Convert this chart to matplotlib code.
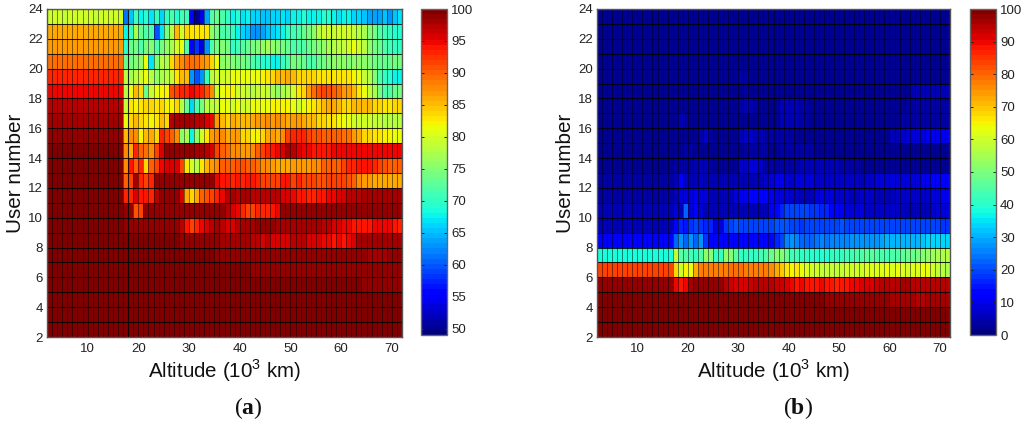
import numpy as np
import matplotlib
matplotlib.use('Agg')
import matplotlib.pyplot as plt

plt.rcParams['font.family'] = ['Liberation Sans', 'DejaVu Sans']
plt.rcParams['mathtext.fontset'] = 'custom'
plt.rcParams['mathtext.rm'] = 'Liberation Sans'
plt.rcParams['mathtext.bf'] = 'Liberation Serif:bold'

altitude_edges = np.arange(2, 73)
user_edges = np.arange(2, 25)
x_ticks = [10, 20, 30, 40, 50, 60, 70]
y_ticks = [2, 4, 6, 8, 10, 12, 14, 16, 18, 20, 22, 24]
cbar_ticks_a = [50, 55, 60, 65, 70, 75, 80, 85, 90, 95, 100]
cbar_ticks_b = [0, 10, 20, 30, 40, 50, 60, 70, 80, 90, 100]
heavy_cols_a = [18, 36, 58]

# panel (a), one list per user number row
a23 = [80, 80, 80, 79, 80, 80, 80, 80, 80, 79, 80, 80, 80, 80, 80,
       61, 65, 71, 68, 69, 67, 70, 66, 70, 72, 69, 71, 71, 55, 50, 54, 64, 72, 73, 72, 70,
       68, 69, 67, 68, 66, 66, 65, 65, 66, 66, 67, 66, 68, 68, 69, 68, 68, 68, 69, 69, 68, 67, 68, 68, 66, 66, 65, 64, 64, 64, 65, 63, 65, 67]
a22 = [86, 86, 86, 86, 86, 86, 86, 86, 86, 86, 86, 86, 86, 86, 86,
       68, 70, 77, 73, 72, 72, 60, 67, 74, 78, 85, 80, 84, 83, 83, 83, 83, 76, 74, 72, 72,
       70, 68, 66, 65, 63, 63, 64, 65, 66, 67, 68, 70, 71, 72, 73, 74, 76, 78, 80, 80, 79, 80, 80, 80, 79, 78, 77, 75, 74, 72, 71, 70, 69, 69]
a21 = [87, 87, 87, 87, 87, 87, 87, 87, 87, 87, 87, 87, 87, 87, 87,
       69, 73, 74, 72, 74, 75, 72, 74, 76, 77, 80, 81, 72, 56, 58, 53, 63, 72, 74, 75, 74,
       70, 71, 72, 73, 74, 75, 76, 77, 76, 75, 74, 73, 72, 72, 72, 73, 74, 75, 76, 77, 78, 78, 79, 80, 81, 80, 78, 76, 74, 73, 72, 71, 70, 70]
a20 = [89, 89, 89, 89, 89, 89, 89, 89, 89, 89, 89, 89, 89, 89, 89,
       73, 74, 75, 76, 81, 67, 75, 78, 77, 84, 86, 88, 89, 89, 89, 88, 87, 84, 81, 76, 76,
       75, 74, 74, 73, 72, 71, 69, 69, 68, 68, 70, 72, 74, 74, 73, 72, 72, 73, 74, 75, 76, 76, 76, 75, 76, 76, 76, 75, 74, 73, 73, 73, 74, 74]
a19 = [93, 93, 93, 93, 93, 93, 93, 93, 93, 93, 93, 93, 93, 93, 93,
       78, 77, 78, 80, 81, 78, 76, 77, 78, 79, 83, 85, 85, 63, 60, 63, 70, 78, 80, 80, 80,
       81, 81, 81, 81, 81, 81, 82, 83, 84, 85, 85, 86, 85, 84, 84, 84, 84, 83, 83, 83, 83, 83, 83, 83, 82, 81, 79, 78, 75, 72, 70, 69, 68, 68]
a18 = [95, 95, 95, 95, 95, 95, 95, 95, 95, 95, 95, 95, 95, 95, 95,
       78, 81, 85, 84, 73, 79, 81, 82, 82, 91, 92, 93, 93, 95, 94, 93, 91, 88, 80, 81, 82,
       82, 80, 80, 79, 78, 79, 80, 79, 77, 76, 77, 78, 80, 83, 84, 87, 89, 91, 92, 91, 90, 89, 87, 87, 85, 83, 81, 79, 77, 74, 72, 72, 73, 74]
a17 = [97, 97, 97, 97, 97, 97, 97, 97, 97, 97, 97, 97, 97, 97, 97,
       79, 83, 82, 83, 84, 84, 83, 84, 82, 82, 84, 78, 73, 66, 72, 74, 78, 78, 79, 81, 81,
       80, 81, 80, 80, 81, 81, 81, 81, 82, 82, 82, 82, 81, 80, 81, 82, 83, 84, 85, 86, 86, 85, 84, 84, 85, 85, 85, 85, 84, 84, 83, 83, 84, 84]
a16 = [98, 98, 98, 98, 98, 98, 98, 98, 98, 98, 98, 98, 98, 98, 98,
       81, 84, 85, 84, 83, 82, 83, 85, 84, 97, 98, 98, 98, 98, 97, 97, 96, 95, 87, 85, 84,
       86, 85, 85, 85, 86, 87, 87, 88, 87, 88, 87, 86, 87, 87, 86, 85, 85, 84, 84, 83, 83, 82, 81, 81, 80, 80, 80, 80, 79, 79, 78, 78, 78, 78]
a15 = [99, 99, 99, 99, 99, 99, 99, 99, 99, 99, 99, 99, 99, 99, 99,
       85, 88, 88, 82, 85, 86, 84, 93, 92, 90, 88, 76, 77, 68, 76, 80, 83, 87, 88, 88, 86,
       87, 87, 84, 84, 82, 82, 84, 86, 87, 86, 88, 92, 93, 93, 93, 92, 91, 91, 90, 90, 90, 90, 89, 89, 87, 86, 84, 84, 83, 83, 82, 82, 81, 81]
a14 = [100, 100, 100, 100, 100, 100, 100, 100, 100, 100, 100, 100, 100, 100, 100,
       88, 86, 93, 90, 89, 88, 92, 96, 99, 99, 99, 99, 99, 99, 98, 98, 97, 96, 92, 90, 89,
       88, 88, 87, 87, 88, 90, 92, 93, 94, 95, 96, 98, 97, 96, 95, 95, 94, 94, 94, 94, 95, 95, 95, 95, 95, 95, 95, 95, 95, 95, 95, 95, 95, 95]
a13 = [100, 100, 100, 100, 100, 100, 100, 100, 100, 100, 100, 100, 100, 100, 100,
       88, 94, 90, 93, 84, 90, 92, 95, 96, 96, 96, 92, 83, 80, 78, 83, 85, 87, 88, 90, 90,
       90, 91, 91, 90, 90, 89, 88, 88, 87, 86, 86, 86, 87, 87, 87, 87, 88, 88, 90, 90, 90, 90, 92, 93, 93, 94, 94, 94, 93, 92, 91, 90, 90, 90]
a12 = [100, 100, 100, 100, 100, 100, 100, 100, 100, 100, 100, 100, 100, 100, 100,
       90, 92, 98, 93, 92, 93, 99, 99, 99, 99, 99, 99, 99, 99, 99, 99, 99, 99, 95, 94, 94,
       93, 94, 93, 94, 94, 93, 92, 92, 92, 92, 94, 94, 92, 93, 92, 92, 92, 91, 91, 92, 92, 92, 92, 91, 90, 88, 87, 87, 86, 86, 86, 86, 86, 86]
a11 = [100, 100, 100, 100, 100, 100, 100, 100, 100, 100, 100, 100, 100, 100, 100,
       93, 93, 96, 94, 94, 93, 97, 99, 99, 99, 99, 96, 86, 84, 86, 90, 91, 92, 93, 95, 97,
       98, 97, 98, 98, 97, 97, 97, 97, 97, 97, 96, 96, 95, 94, 94, 93, 93, 94, 94, 95, 95, 96, 96, 97, 97, 97, 98, 98, 98, 98, 98, 98, 98, 98]
a10 = [100, 100, 100, 100, 100, 100, 100, 100, 100, 100, 100, 100, 100, 100, 100,
       99, 99, 91, 92, 99, 99, 99, 99, 99, 99, 99, 99, 99, 99, 99, 99, 99, 99, 99, 99, 97,
       96, 95, 93, 92, 92, 93, 93, 93, 94, 95, 99, 99, 99, 99, 99, 99, 99, 99, 99, 99, 99, 99, 99, 99, 99, 99, 99, 99, 99, 99, 99, 99, 99, 99]
a9 = [100, 100, 100, 100, 100, 100, 100, 100, 100, 100, 100, 100, 100, 100, 100,
      99, 99, 99, 99, 99, 99, 99, 99, 99, 99, 99, 97, 94, 92, 93, 95, 96, 97, 98, 97, 96,
      96, 97, 98, 98, 98, 99, 99, 99, 99, 98, 98, 98, 98, 98, 98, 98, 98, 98, 97, 97, 96, 96, 95, 95, 94, 94, 94, 94, 95, 95, 95, 95, 94, 93]
a8 = [100, 100, 100, 100, 100, 100, 100, 100, 100, 100, 100, 100, 100, 100, 100,
      100, 100, 100, 100, 100, 100, 100, 100, 100, 100, 100, 99, 99, 99, 99, 99, 99, 99, 99, 98, 98,
      98, 98, 98, 98, 97, 97, 96, 97, 96, 96, 96, 96, 97, 97, 97, 96, 96, 96, 95, 95, 94, 95, 94, 95, 96, 98, 98, 98, 98, 98, 98, 98, 98, 98]
a7 = [100, 100, 100, 100, 100, 100, 100, 100, 100, 100, 100, 100, 100, 100, 100,
      100, 100, 100, 100, 100, 100, 100, 100, 100, 100, 100, 100, 100, 100, 100, 100, 100, 100, 99, 99, 99,
      99, 99, 99, 99, 99, 99, 99, 99, 99, 99, 99, 99, 99, 99, 99, 99, 99, 99, 99, 99, 99, 99, 99, 99, 99, 99, 99, 98, 98, 98, 98, 99, 99, 99]
a6 = [100, 100, 100, 100, 100, 100, 100, 100, 100, 100, 100, 100, 100, 100, 100,
      100, 100, 100, 100, 100, 100, 100, 100, 100, 100, 100, 100, 100, 100, 100, 100, 100, 100, 100, 100, 100,
      100, 100, 100, 100, 99, 99, 99, 99, 99, 99, 99, 99, 99, 99, 99, 99, 99, 99, 99, 99, 99, 99, 99, 99, 99, 99, 99, 99, 99, 99, 99, 99, 99, 99]
a5 = [100, 100, 100, 100, 100, 100, 100, 100, 100, 100, 100, 100, 100, 100, 100,
      100, 100, 100, 100, 100, 100, 100, 100, 100, 100, 100, 100, 100, 100, 100, 100, 100, 100, 100, 100, 100,
      100, 100, 100, 100, 100, 100, 100, 100, 100, 100, 100, 100, 100, 100, 100, 100, 100, 100, 100, 100, 100, 100, 100, 100, 100, 100, 99, 99, 99, 99, 99, 99, 99, 99]
a4 = [100, 100, 100, 100, 100, 100, 100, 100, 100, 100, 100, 100, 100, 100, 100,
      100, 100, 100, 100, 100, 100, 100, 100, 100, 100, 100, 100, 100, 100, 100, 100, 100, 100, 100, 100, 100,
      100, 100, 100, 100, 100, 100, 100, 100, 100, 100, 100, 100, 100, 100, 100, 100, 100, 100, 100, 100, 100, 100, 100, 100, 100, 100, 100, 100, 100, 100, 100, 100, 100, 100]
a3 = [100, 100, 100, 100, 100, 100, 100, 100, 100, 100, 100, 100, 100, 100, 100,
      100, 100, 100, 100, 100, 100, 100, 100, 100, 100, 100, 100, 100, 100, 100, 100, 100, 100, 100, 100, 100,
      100, 100, 100, 100, 100, 100, 100, 100, 100, 100, 100, 100, 100, 100, 100, 100, 100, 100, 100, 100, 100, 100, 100, 100, 100, 100, 100, 100, 100, 100, 100, 100, 100, 100]
a2 = [100, 100, 100, 100, 100, 100, 100, 100, 100, 100, 100, 100, 100, 100, 100,
      100, 100, 100, 100, 100, 100, 100, 100, 100, 100, 100, 100, 100, 100, 100, 100, 100, 100, 100, 100, 100,
      100, 100, 100, 100, 100, 100, 100, 100, 100, 100, 100, 100, 100, 100, 100, 100, 100, 100, 100, 100, 100, 100, 100, 100, 100, 100, 100, 100, 100, 100, 100, 100, 100, 100]

# panel (b)
b23 = [3, 3, 3, 3, 3, 3, 3, 3, 3, 3, 3, 3, 3, 3, 3,
       3, 3, 3, 3, 3, 3, 3, 3, 3, 3, 3, 3, 3, 3, 3, 3, 3, 3, 3, 3, 3,
       3, 3, 3, 3, 3, 3, 3, 3, 3, 3, 3, 3, 3, 3, 3, 3, 3, 3, 3, 3, 3, 3, 3, 3, 3, 3, 3, 3, 3, 3, 3, 3, 3, 3]
b22 = [3, 3, 3, 3, 3, 3, 3, 3, 3, 3, 3, 3, 3, 3, 3,
       3, 3, 3, 3, 3, 3, 3, 3, 3, 3, 3, 3, 3, 3, 3, 3, 3, 3, 3, 3, 3,
       3, 3, 3, 3, 3, 3, 3, 3, 3, 3, 3, 3, 3, 3, 3, 3, 3, 3, 3, 3, 3, 3, 3, 3, 3, 3, 3, 3, 3, 3, 3, 3, 3, 3]
b21 = [3, 3, 3, 3, 3, 3, 3, 3, 3, 3, 3, 3, 3, 3, 3,
       3, 3, 3, 3, 3, 3, 3, 3, 3, 3, 3, 3, 3, 3, 3, 3, 3, 3, 3, 3, 3,
       3, 3, 3, 3, 3, 3, 3, 3, 3, 3, 3, 3, 3, 3, 3, 3, 3, 3, 3, 3, 3, 3, 3, 3, 3, 3, 3, 3, 3, 3, 3, 3, 3, 3]
b20 = [3, 3, 3, 3, 3, 3, 3, 3, 3, 3, 3, 3, 3, 3, 3,
       3, 3, 3, 3, 3, 3, 3, 3, 3, 3, 3, 3, 3, 3, 3, 3, 3, 3, 3, 3, 3,
       3, 3, 3, 3, 3, 3, 3, 3, 3, 3, 3, 3, 3, 3, 3, 3, 3, 3, 3, 3, 3, 3, 3, 3, 3, 3, 3, 3, 3, 3, 3, 3, 3, 3]
b19 = [3, 3, 3, 3, 3, 3, 3, 3, 3, 3, 3, 3, 3, 3, 3,
       3, 3, 3, 3, 3, 3, 3, 3, 3, 3, 3, 3, 3, 4, 4, 3, 3, 3, 3, 3, 3,
       3, 3, 3, 3, 3, 3, 3, 3, 3, 3, 3, 3, 3, 3, 3, 3, 3, 3, 3, 3, 3, 3, 3, 3, 3, 3, 3, 3, 3, 3, 3, 3, 3, 3]
b18 = [3, 3, 3, 3, 3, 3, 3, 3, 3, 3, 3, 3, 3, 3, 3,
       3, 3, 3, 3, 3, 3, 3, 3, 3, 3, 3, 3, 3, 3, 4, 3, 3, 3, 3, 3, 3,
       3, 3, 3, 3, 3, 3, 3, 3, 3, 3, 3, 3, 3, 3, 3, 3, 3, 3, 3, 3, 3, 3, 3, 3, 3, 3, 5, 5, 5, 5, 5, 5, 5, 5]
b17 = [3, 3, 3, 3, 3, 3, 3, 3, 3, 3, 3, 3, 3, 3, 3,
       3, 3, 3, 3, 3, 3, 3, 3, 3, 3, 3, 3, 3, 4, 6, 5, 4, 3, 3, 3, 3,
       5, 5, 5, 5, 4, 4, 3, 3, 3, 3, 3, 3, 3, 3, 3, 3, 3, 3, 3, 3, 3, 3, 3, 3, 3, 4, 4, 4, 4, 4, 4, 4, 4, 4]
b16 = [3, 3, 3, 3, 3, 3, 3, 3, 3, 3, 3, 3, 3, 3, 3,
       3, 5, 4, 3, 3, 3, 3, 3, 3, 3, 3, 3, 3, 3, 3, 3, 3, 3, 3, 3, 3,
       5, 5, 5, 5, 4, 4, 3, 3, 3, 3, 3, 3, 3, 3, 3, 3, 3, 3, 3, 3, 3, 3, 3, 3, 4, 4, 4, 4, 4, 4, 4, 4, 4, 4]
b15 = [3, 3, 3, 3, 3, 3, 3, 3, 3, 3, 3, 3, 3, 3, 3,
       3, 3, 3, 3, 3, 4, 7, 4, 3, 3, 3, 3, 3, 6, 7, 7, 6, 5, 4, 4, 4,
       4, 4, 4, 3, 3, 3, 3, 3, 3, 3, 3, 3, 3, 3, 3, 3, 3, 3, 3, 3, 3, 3, 5, 6, 7, 8, 8, 9, 9, 10, 10, 10, 10, 10]
b14 = [3, 3, 3, 3, 3, 3, 3, 3, 3, 3, 3, 3, 3, 3, 3,
       3, 3, 4, 4, 3, 3, 3, 3, 3, 3, 3, 3, 3, 3, 4, 4, 4, 4, 4, 3, 3,
       4, 4, 4, 4, 4, 4, 4, 3, 3, 3, 3, 3, 3, 3, 3, 3, 3, 3, 3, 3, 3, 3, 3, 3, 3, 3, 3, 3, 3, 3, 3, 3, 3, 3]
b13 = [3, 3, 3, 3, 3, 3, 3, 3, 3, 3, 3, 3, 3, 3, 3,
       4, 4, 4, 4, 5, 5, 5, 4, 3, 3, 3, 3, 3, 7, 7, 8, 8, 7, 4, 4, 4,
       4, 4, 4, 4, 6, 6, 6, 6, 6, 5, 5, 5, 4, 4, 4, 4, 3, 3, 3, 3, 3, 3, 3, 3, 3, 3, 3, 3, 3, 3, 3, 3, 3, 3]
b12 = [4, 4, 4, 4, 4, 4, 4, 4, 4, 4, 4, 4, 4, 4, 4,
       5, 11, 7, 6, 6, 7, 6, 5, 5, 5, 5, 5, 5, 5, 5, 5, 5, 5, 7, 8, 10,
       10, 9, 7, 8, 8, 8, 8, 7, 7, 7, 7, 7, 7, 7, 7, 7, 6, 7, 7, 8, 8, 8, 8, 8, 8, 8, 8, 9, 10, 10, 11, 12, 12, 12]
b11 = [4, 4, 4, 4, 4, 4, 4, 4, 4, 4, 4, 4, 4, 4, 4,
       6, 8, 9, 8, 10, 8, 8, 6, 6, 5, 5, 5, 9, 10, 10, 13, 13, 11, 11, 10, 9,
       8, 8, 7, 7, 6, 6, 6, 9, 9, 8, 8, 7, 7, 7, 6, 6, 7, 7, 7, 6, 6, 6, 6, 7, 7, 7, 7, 7, 7, 7, 8, 9, 10, 10]
b10 = [5, 5, 5, 5, 5, 5, 5, 5, 5, 5, 5, 5, 5, 5, 5,
       8, 6, 22, 9, 11, 8, 6, 5, 5, 5, 5, 5, 5, 5, 5, 5, 5, 6, 6, 10, 13,
       17, 20, 20, 20, 20, 19, 18, 18, 17, 16, 13, 11, 10, 9, 9, 8, 8, 7, 7, 7, 7, 7, 7, 7, 7, 6, 6, 6, 6, 6, 7, 8, 8, 8]
b9 = [6, 6, 6, 6, 6, 6, 6, 6, 6, 6, 6, 6, 6, 6, 6,
      14, 17, 15, 18, 19, 18, 16, 16, 9, 8, 18, 20, 21, 20, 20, 20, 20, 19, 19, 20, 21,
      21, 21, 20, 20, 18, 19, 19, 19, 20, 20, 20, 20, 21, 20, 20, 20, 20, 20, 20, 20, 19, 19, 20, 20, 20, 20, 20, 20, 20, 20, 19, 19, 18, 18]
b8 = [11, 11, 11, 11, 11, 11, 11, 11, 11, 11, 11, 11, 11, 11, 11,
      22, 27, 22, 27, 22, 28, 18, 14, 14, 12, 12, 14, 14, 14, 14, 14, 14, 14, 14, 14, 16,
      20, 25, 28, 26, 23, 22, 23, 24, 25, 24, 26, 25, 26, 26, 27, 27, 27, 27, 28, 28, 29, 30, 31, 31, 31, 31, 31, 31, 32, 33, 33, 34, 34, 34]
b7 = [39, 39, 39, 39, 39, 39, 39, 39, 39, 39, 39, 39, 39, 39, 39,
      58, 46, 45, 43, 42, 45, 53, 50, 42, 42, 53, 50, 46, 42, 41, 41, 41, 43, 45, 48, 50,
      50, 48, 43, 43, 41, 41, 40, 40, 40, 40, 41, 42, 42, 43, 43, 44, 45, 46, 46, 45, 44, 43, 44, 44, 46, 47, 48, 49, 51, 52, 54, 55, 56, 57]
b6 = [83, 83, 83, 83, 83, 83, 83, 83, 83, 83, 83, 83, 83, 83, 83,
      68, 60, 65, 64, 72, 78, 78, 78, 77, 77, 78, 79, 79, 79, 78, 78, 77, 77, 77, 76, 73,
      70, 67, 65, 66, 63, 62, 60, 60, 58, 58, 58, 58, 58, 60, 60, 60, 60, 61, 62, 62, 62, 64, 62, 64, 62, 60, 62, 62, 63, 63, 60, 58, 57, 56]
b5 = [98, 98, 98, 98, 98, 98, 98, 98, 98, 98, 98, 98, 98, 98, 98,
      90, 88, 90, 96, 98, 98, 98, 98, 98, 98, 94, 93, 92, 92, 92, 93, 94, 94, 95, 94, 93,
      93, 92, 90, 89, 90, 88, 88, 89, 90, 88, 88, 87, 88, 89, 90, 90, 92, 92, 91, 93, 94, 95, 95, 95, 96, 96, 95, 94, 95, 95, 95, 95, 95, 95]
b4 = [99, 99, 99, 99, 99, 99, 99, 99, 99, 99, 99, 99, 99, 99, 99,
      99, 99, 99, 99, 99, 99, 99, 99, 99, 99, 99, 99, 99, 99, 99, 99, 99, 99, 99, 99, 99,
      99, 99, 100, 100, 99, 99, 99, 99, 99, 98, 98, 98, 98, 98, 98, 98, 98, 97, 97, 97, 97, 97, 96, 96, 96, 96, 96, 95, 95, 96, 96, 96, 96, 96]
b3 = [100, 100, 100, 100, 100, 100, 100, 100, 100, 100, 100, 100, 100, 100, 100,
      100, 100, 100, 100, 100, 100, 100, 100, 100, 100, 100, 100, 100, 100, 100, 100, 100, 100, 100, 100, 100,
      100, 100, 100, 100, 100, 100, 100, 100, 100, 100, 100, 100, 100, 100, 100, 100, 100, 100, 100, 100, 100, 100, 100, 100, 99, 99, 99, 99, 99, 99, 99, 99, 99, 99]
b2 = [100, 100, 100, 100, 100, 100, 100, 100, 100, 100, 100, 100, 100, 100, 100,
      100, 100, 100, 100, 100, 100, 100, 100, 100, 100, 100, 100, 100, 100, 100, 100, 100, 100, 100, 100, 100,
      100, 100, 100, 100, 100, 100, 100, 100, 100, 100, 100, 100, 100, 100, 100, 100, 100, 100, 100, 100, 100, 100, 100, 100, 100, 100, 100, 100, 100, 100, 100, 100, 100, 100]

rows_a = [a2, a3, a4, a5, a6, a7, a8, a9, a10, a11, a12, a13, a14, a15, a16, a17, a18, a19, a20, a21, a22, a23]
rows_b = [b2, b3, b4, b5, b6, b7, b8, b9, b10, b11, b12, b13, b14, b15, b16, b17, b18, b19, b20, b21, b22, b23]

W, H = 1024, 426
fig = plt.figure(figsize=(W / 100, H / 100), dpi=100)


def box(x0, y0, x1, y1):
    return [x0 / W, 1 - y1 / H, (x1 - x0) / W, (y1 - y0) / H]


def heat_panel(rows, vmin, ticks, ax_px, cax_px, letter, heavy_cols):
    ax = fig.add_axes(box(*ax_px))
    mesh = ax.pcolormesh(altitude_edges, user_edges, np.array(rows), cmap=plt.get_cmap('jet', 64),
                         vmin=vmin, vmax=100)
    # cell borders, horizontal ones come out heavier in the original
    ax.vlines(altitude_edges, 2, 24, color='k', lw=0.7, alpha=0.5)
    ax.vlines(heavy_cols, 2, 24, color='k', lw=0.8, alpha=0.7)
    ax.hlines(user_edges, 2, 72, color='k', lw=0.75, alpha=0.85)
    ax.set_xlim(2, 72)
    ax.set_ylim(2, 24)
    ax.set_xticks(x_ticks)
    ax.set_yticks(y_ticks)
    ax.tick_params(length=0, labelsize=9.5, pad=4, colors='#222222')
    ax.tick_params(axis='y', pad=3)
    ax.set_xlabel('Altitude (10$^{3}$ km)', fontsize=14.8, labelpad=2, color='#111111')
    ax.set_ylabel('User number', fontsize=14.9, labelpad=2, color='#111111')
    for s in ax.spines.values():
        s.set_color('#555555')
        s.set_linewidth(1.0)

    cax = fig.add_axes(box(*cax_px))
    cb = fig.colorbar(mesh, cax=cax, ticks=ticks)
    cb.ax.tick_params(direction='in', length=2.5, width=0.7, labelsize=9.5, pad=3, color='#222222',
                      left=True, right=True, labelcolor='#222222')
    cb.outline.set_edgecolor('#666666')
    cb.outline.set_linewidth(1.0)
    x_mid = (ax_px[0] + ax_px[2]) / 2 + 24
    fig.text(x_mid / W, 1 - 408 / H, '($\\mathbf{%s}$)' % letter, family='Liberation Serif',
             fontsize=17, ha='center', va='center', color='#111111')


heat_panel(rows_a, 49, cbar_ticks_a, (47, 9, 402, 337), (421, 9, 447, 335), 'a', heavy_cols_a)
heat_panel(rows_b, 0, cbar_ticks_b, (597, 9, 950, 337), (970, 9, 996, 335), 'b', [])

for r in rows_a + rows_b:
    assert len(r) == 70, len(r)

fig.savefig('out.png', dpi=100)
